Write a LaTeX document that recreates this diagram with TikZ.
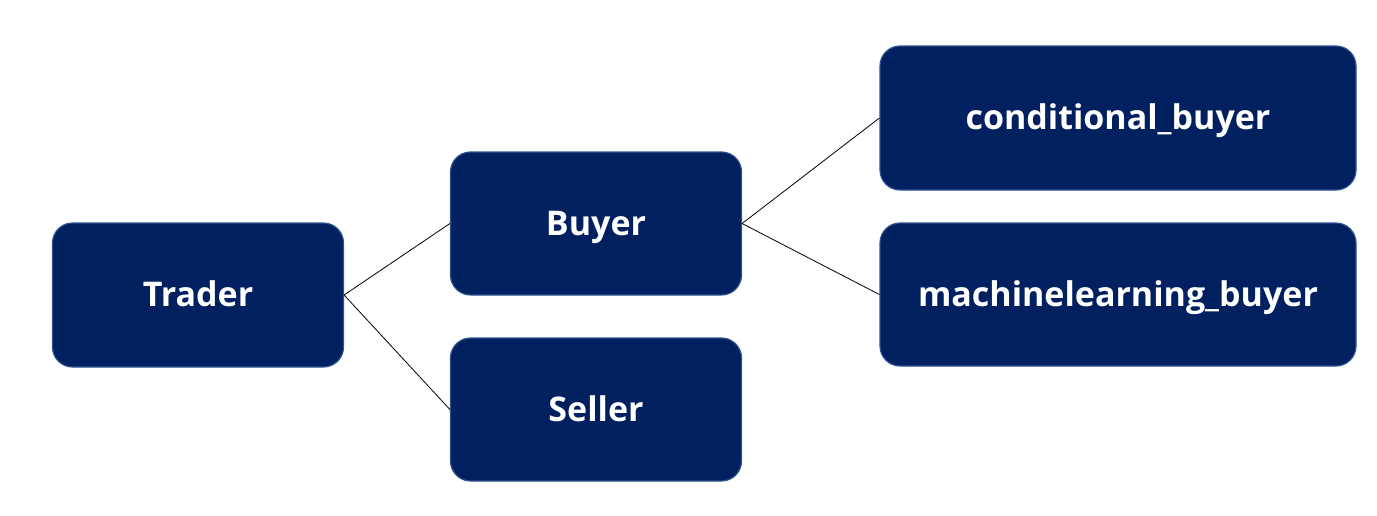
\documentclass[tikz,border=0pt]{standalone}
\usepackage{fontspec}
\setmainfont{Open Sans}
\definecolor{boxfill}{HTML}{002060}
\definecolor{boxline}{HTML}{2F528F}
\begin{document}
\begin{tikzpicture}[x=1pt,y=-1pt,
  box/.style={draw=boxline,line width=1.2pt,fill=boxfill,rounded corners=20pt,
    text=white,font=\fontsize{34}{40}\selectfont\bfseries,inner sep=0pt,
    text height=23pt,text depth=0pt},
  conn/.style={draw=black,line width=0.8pt}]
\useasboundingbox (0,0) rectangle (1377,515);
\node[box,minimum width=291pt,minimum height=144pt] (trader) at (198,295) {Trader};
\node[box,minimum width=291pt,minimum height=143pt] (buyer) at (596,223.5) {Buyer};
\node[box,minimum width=291pt,minimum height=143pt] (seller) at (596,409.5) {Seller};
\node[box,minimum width=476pt,minimum height=144pt] (cond) at (1118,118) {conditional\_buyer};
\node[box,minimum width=476pt,minimum height=143pt] (ml) at (1118,294.5) {machinelearning\_buyer};
\draw[conn] (trader.east) -- (buyer.west);
\draw[conn] (trader.east) -- (seller.west);
\draw[conn] (buyer.east) -- (cond.west);
\draw[conn] (buyer.east) -- (ml.west);
\end{tikzpicture}
\end{document}
